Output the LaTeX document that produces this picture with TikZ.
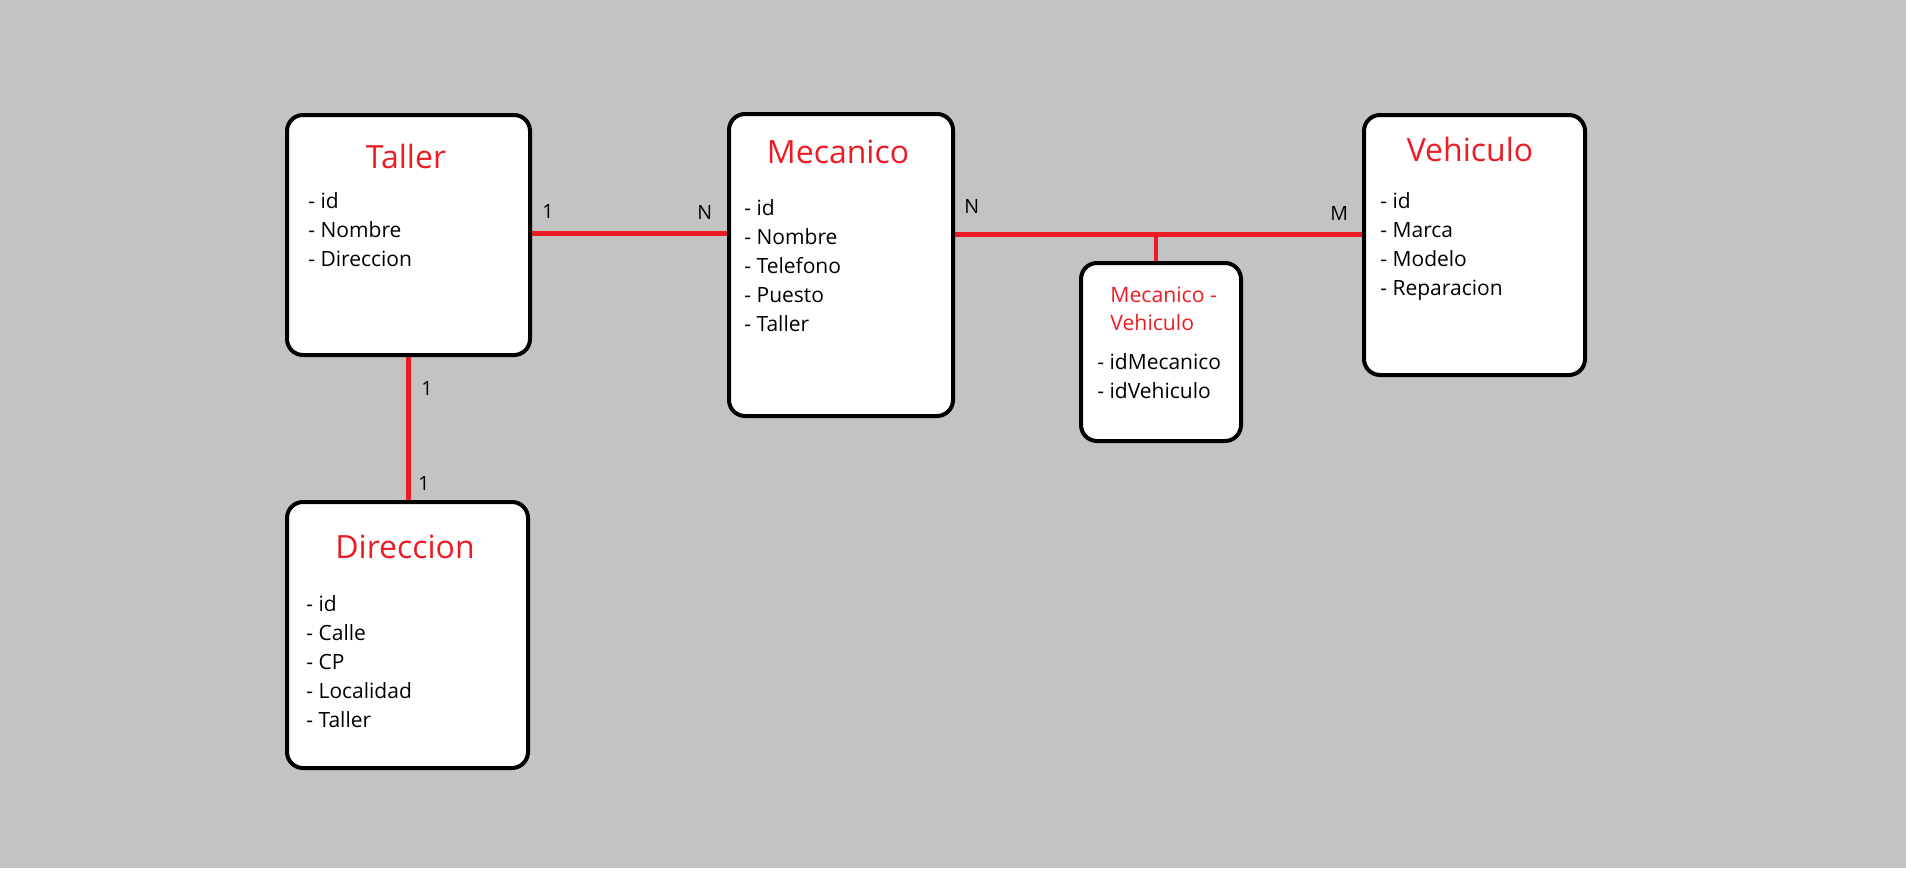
\documentclass[tikz,border=0pt]{standalone}
\usepackage{fontspec}
\setmainfont{Open Sans}
\definecolor{bggray}{HTML}{C3C3C3}
\definecolor{erred}{HTML}{ED1C24}
\pgfdeclarelayer{back}
\pgfdeclarelayer{lines}
\pgfsetlayers{back,lines,main}
\tikzset{
  ebox/.style={draw=black, line width=2pt, fill=white, rounded corners=8pt, inner sep=0pt},
  rel/.style={draw=erred, line width=2.1pt},
  ttl/.style={anchor=base, inner sep=0pt, text=erred, font=\fontsize{16}{19}\selectfont},
  attr/.style={anchor=base west, inner sep=0pt, font=\fontsize{10.5}{14.5}\selectfont, align=left},
  card/.style={anchor=base west, inner sep=0pt, font=\fontsize{9.8}{12}\selectfont}
}
\begin{document}
\begin{tikzpicture}[x=0.5pt, y=-0.5pt]
\begin{pgfonlayer}{back}
\fill[bggray] (0,0) rectangle (1906,868);
\end{pgfonlayer}
\useasboundingbox (0,0) rectangle (1906,868);

% boxes
\node[ebox, minimum width=121.5pt, minimum height=120pt] (taller) at (408.5,235) {};
\node[ebox, minimum width=112pt, minimum height=151pt] (mecanico) at (841,265) {};
\node[ebox, minimum width=110.5pt, minimum height=130pt] (vehiculo) at (1474.5,245) {};
\node[ebox, minimum width=80pt, minimum height=89pt] (mv) at (1161,352) {};
\node[ebox, minimum width=120.5pt, minimum height=133pt] (direccion) at (407.5,635) {};

% titles
\node[ttl] (tTaller) at (406,168) {Taller};
\node[ttl] (tMecanico) at (838,163) {Mecanico};
\node[ttl] (tVehiculo) at (1470,161) {Vehiculo};
\node[ttl] (tDireccion) at (405,558) {Direccion};
\node[anchor=base west, inner sep=0pt, text=erred, font=\fontsize{10.6}{14}\selectfont, align=left] (tMV) at (1110,330) {Mecanico -\\Vehiculo};

% attributes (anchored at the baseline of the last line)
\node[attr] (aTaller) at (308,266) {- id\\- Nombre\\- Direccion};
\node[attr] (aMecanico) at (744,331) {- id\\- Nombre\\- Telefono\\- Puesto\\- Taller};
\node[attr] (aVehiculo) at (1380,295) {- id\\- Marca\\- Modelo\\- Reparacion};
\node[attr] (aMV) at (1097,398) {- idMecanico\\- idVehiculo};
\node[attr] (aDireccion) at (306,727) {- id\\- Calle\\- CP\\- Localidad\\- Taller};

% connectors
\coordinate (l1) at (0,233.5);
\coordinate (j) at (1156,234.5);
\begin{pgfonlayer}{lines}
\draw[rel] (taller.east |- l1) -- (mecanico.west |- l1);
\draw[rel] (mecanico.east |- j) -- (vehiculo.west |- j);
\draw[rel] (j) -- (j |- mv.north);
\draw[rel] (taller.south) -- (taller.south |- direccion.north);
\end{pgfonlayer}

% cardinalities
\node[card] (c1) at (542,218) {1};
\node[card] (c2) at (697,219) {N};
\node[card] (c3) at (964,213) {N};
\node[card] (c4) at (1330,220) {M};
\node[card] (c5) at (421,395) {1};
\node[card] (c6) at (418,490) {1};
\end{tikzpicture}
\end{document}
